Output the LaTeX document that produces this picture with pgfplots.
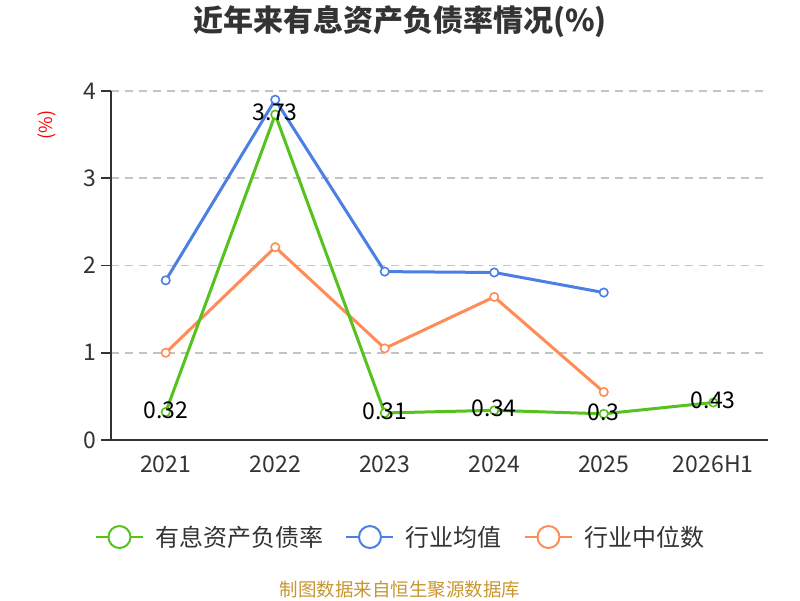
\documentclass[border=0pt]{standalone}
\usepackage{pgfplots}
\pgfplotsset{compat=1.18}
\usepackage{fontspec}
\setmainfont{Noto Sans CJK SC}
\definecolor{cgreen}{HTML}{56C21E}
\definecolor{cblue}{HTML}{4C7FE3}
\definecolor{corange}{HTML}{FF8C57}
\definecolor{ctext}{HTML}{333333}
\definecolor{cgrid}{HTML}{C4C4C4}
\definecolor{csrc}{HTML}{C8962E}
\begin{document}
\begin{tikzpicture}[x=1pt,y=1pt]
\path[use as bounding box] (0,0) rectangle (800,600);
\begin{axis}[
  at={(111pt,160pt)}, anchor=south west,
  scale only axis, width=657pt, height=349pt,
  xmin=-0.5, xmax=5.5, ymin=0, ymax=4,
  axis x line=bottom, axis y line=left,
  axis line style={-, line width=1.6pt, color=ctext},
  xtick={0,1,2,3,4,5},
  xticklabels={2021,2022,2023,2024,2025,2026H1},
  x tick style={draw=none},
  extra x ticks={-0.5,0.5,1.5,2.5,3.5,4.5,5.5},
  extra x tick labels={},
  extra x tick style={major tick length=9pt, tick style={line width=1.5pt, color=ctext, draw=ctext}},
  ytick={0,1,2,3,4},
  y tick style={line width=1.5pt, color=ctext},
  major tick length=10pt,
  tick align=outside,
  ymajorgrids,
  grid style={dash pattern=on 8pt off 6pt, line width=1.5pt, cgrid},
  tick label style={font=\fontsize{23}{26}\selectfont, text=ctext},
  /pgf/number format/assume math mode=true,
  xticklabel style={yshift=-2pt},
  yticklabel style={xshift=-1pt},
  ylabel={(\%)},
  ylabel style={at={(rel axis cs:-0.097,0.903)}, anchor=center, text=red, font=\fontsize{18}{20}\selectfont},
  title={近年来有息资产负债率情况(\%)},
  title style={at={(rel axis cs:0.44,1.181)}, anchor=center, font=\fontsize{30}{33}\selectfont\bfseries, text=ctext},
  reverse legend,
  legend columns=3,
  legend style={at={(rel axis cs:0.441,-0.278)}, anchor=center, draw=none, fill=none,
    font=\fontsize{24}{28}\selectfont, text=ctext,
    /tikz/every even column/.append style={column sep=20pt}},
  clip=false,
]
\addplot[corange, line width=3pt, mark=*, mark size=4.2pt, mark options={fill=white, line width=1.6pt},
  legend image code/.code={\draw[corange, line width=2pt] (0pt,0pt) -- (47pt,0pt); \draw[corange, line width=2pt, fill=white] (23.5pt,0pt) circle (11pt); \path (56pt,0pt);}]
  coordinates {(0,1.00) (1,2.21) (2,1.05) (3,1.64) (4,0.55)};
\addlegendentry{行业中位数}
\addplot[cblue, line width=3pt, mark=*, mark size=4.2pt, mark options={fill=white, line width=1.6pt},
  legend image code/.code={\draw[cblue, line width=2pt] (0pt,0pt) -- (47pt,0pt); \draw[cblue, line width=2pt, fill=white] (23.5pt,0pt) circle (11pt); \path (56pt,0pt);}]
  coordinates {(0,1.83) (1,3.90) (2,1.93) (3,1.92) (4,1.69)};
\addlegendentry{行业均值}
\addplot[cgreen, line width=3pt, mark=*, mark size=4.2pt, mark options={fill=white, line width=1.6pt},
  point meta=explicit symbolic,
  nodes near coords,
  every node near coord/.append style={anchor=center, yshift=2pt, text=black, font=\fontsize{23}{26}\selectfont},
  legend image code/.code={\draw[cgreen, line width=2pt] (0pt,0pt) -- (47pt,0pt); \draw[cgreen, line width=2pt, fill=white] (23.5pt,0pt) circle (11pt); \path (56pt,0pt);}]
  coordinates {(0,0.32) [0.32] (1,3.73) [3.73] (2,0.31) [0.31] (3,0.34) [0.34] (4,0.30) [0.3] (5,0.43) [0.43]};
\addlegendentry{有息资产负债率}
\end{axis}
\node[font=\fontsize{18.5}{22}\selectfont, text=csrc] at (400,10) {制图数据来自恒生聚源数据库};
\end{tikzpicture}
\end{document}
